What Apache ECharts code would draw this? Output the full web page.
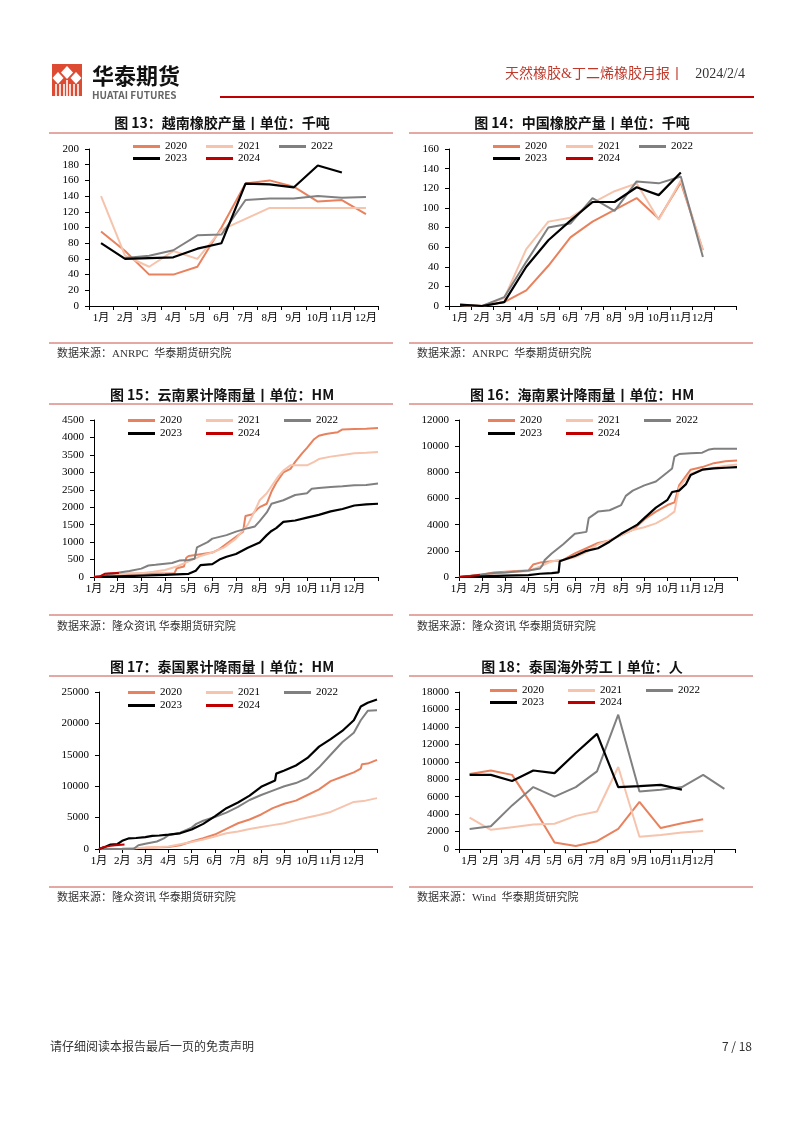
<!DOCTYPE html>
<html><head><meta charset="utf-8">
<script src="https://cdn.jsdelivr.net/npm/echarts@6/dist/echarts.min.js"></script>
<style>html,body{margin:0;padding:0;background:#fff}#c{width:802px;height:1133px}</style>
</head><body><div id="c"></div>
<script>
// ---------- labels ----------
const months = ['1月','2月','3月','4月','5月','6月','7月','8月','9月','10月','11月','12月'];
const months13 = months.concat(['']);
const years = ['2020','2021','2022','2023','2024'];

// ---------- 图13 越南橡胶产量 ----------
const vn2020 = [95,70,40,40,50,100,156,160,152,133,135,117];
const vn2021 = [140,64,50,70,60,97,111,125,125,125,125,125];
const vn2022 = [null,61,64,71,90,91,135,137,137,140,138,139];
const vn2023 = [80,60,61,62,73,80,156,155,151,179,170];
const vn2024 = [];

// ---------- 图14 中国橡胶产量 ----------
const cn2020 = [1,0,4,16,41,70,86,98,110,89,126,57];
const cn2021 = [1,0,8,58,86,90,105,117,125,88,128,57];
const cn2022 = [1,0,9,45,80,84,110,97,127,125,132,50];
const cn2023 = [1.5,0,4,40,67,87,106,106,121,113,136];
const cn2024 = [];

// ---------- 图15 云南累计降雨量 (x = 月份偏移) ----------
const yn2020 = [[0,0],[0.5,30],[1,70],[1.5,90],[2,100],[3,100],[3.4,110],[3.5,250],[3.8,300],[3.9,550],[4,600],[4.5,650],[5,700],[5.3,800],[5.6,950],[6,1150],[6.3,1300],[6.4,1750],[6.7,1800],[6.9,1950],[7,2000],[7.3,2100],[7.5,2450],[7.7,2700],[8,3000],[8.3,3100],[8.5,3300],[8.8,3550],[9,3700],[9.3,3950],[9.5,4050],[9.8,4100],[10,4120],[10.3,4150],[10.5,4230],[11,4240],[11.5,4250],[12,4270]];
const yn2021 = [[0,0],[0.5,40],[1,80],[1.5,100],[2,110],[2.5,150],[3,200],[3.5,300],[4,450],[4.5,600],[5,700],[5.5,850],[6,1100],[6.5,1500],[6.8,1900],[7,2200],[7.3,2400],[7.5,2600],[7.8,2900],[8,3050],[8.3,3200],[9,3200],[9.3,3300],[9.5,3380],[10,3450],[10.5,3500],[11,3550],[11.5,3560],[12,3580]];
const yn2022 = [[0,0],[0.5,50],[1,120],[1.5,170],[2,240],[2.3,330],[2.6,350],[3,380],[3.3,400],[3.6,470],[4,490],[4.25,520],[4.35,850],[4.5,900],[4.8,1000],[5,1100],[5.3,1150],[5.6,1200],[6,1300],[6.5,1400],[6.8,1450],[7,1600],[7.3,1850],[7.5,2100],[8,2200],[8.5,2350],[9,2400],[9.2,2530],[9.5,2550],[10,2580],[10.5,2600],[11,2630],[11.5,2640],[12,2680]];
const yn2023 = [[0,0],[1,20],[2,40],[3,60],[4,90],[4.3,180],[4.5,340],[5,370],[5.3,500],[5.6,580],[6,660],[6.5,840],[7,990],[7.3,1200],[7.5,1320],[7.7,1400],[8,1580],[8.5,1620],[9,1700],[9.5,1780],[10,1880],[10.5,1950],[11,2050],[11.5,2080],[12,2100]];
const yn2024 = [[0,0],[0.25,15],[0.45,90],[0.7,105],[1.05,115]];

// ---------- 图16 海南累计降雨量 ----------
const hn2020 = [[0,0],[0.5,100],[1,200],[1.5,350],[2,400],[2.5,450],[3,500],[3.2,950],[3.5,1100],[4,1200],[4.5,1300],[5,1800],[5.5,2200],[6,2600],[6.5,2800],[7,3200],[7.5,3600],[8,4400],[8.5,5000],[9,5500],[9.3,5700],[9.5,7000],[10,8200],[10.5,8400],[11,8700],[11.5,8850],[12,8900]];
const hn2021 = [[0,0],[0.5,80],[1,150],[1.5,250],[2,350],[2.5,400],[3,450],[3.5,800],[4,1200],[4.5,1300],[5,1500],[5.5,1900],[6,2500],[6.5,2800],[7,3200],[7.5,3600],[8,3800],[8.5,4100],[9,4600],[9.3,5000],[9.5,6800],[9.7,7300],[10,7900],[10.5,8200],[11,8350],[11.5,8500],[12,8600]];
const hn2022 = [[0,0],[0.5,80],[1,200],[1.5,300],[2,350],[2.5,420],[3,500],[3.5,650],[3.6,900],[3.7,1300],[4,1800],[4.5,2500],[5,3300],[5.5,3450],[5.6,4500],[6,5000],[6.5,5100],[7,5500],[7.2,6200],[7.5,6600],[8,7000],[8.5,7300],[9,8000],[9.2,8300],[9.3,9200],[9.5,9400],[10,9450],[10.5,9500],[10.8,9750],[11,9800],[12,9800]];
const hn2023 = [[0,0],[1,50],[2,100],[3,150],[3.5,250],[4,300],[4.3,350],[4.35,1200],[4.5,1300],[5,1600],[5.5,2000],[6,2200],[6.5,2700],[7,3300],[7.3,3600],[7.7,4000],[8,4500],[8.5,5300],[9,5900],[9.2,6500],[9.5,6600],[9.8,7100],[10,7800],[10.5,8200],[11,8300],[11.5,8350],[12,8400]];
const hn2024 = [[0,0],[0.5,80],[0.9,150]];

// ---------- 图17 泰国累计降雨量 ----------
const th2020r = [[0,0],[1,50],[2,200],[3,320],[3.5,600],[4,1200],[4.5,1700],[5,2300],[5.5,3200],[6,4100],[6.5,4700],[7,5500],[7.5,6500],[8,7200],[8.5,7700],[9,8600],[9.5,9500],[10,10800],[10.5,11500],[11,12200],[11.3,12800],[11.35,13500],[11.6,13600],[12,14200]];
const th2021r = [[0,0],[1,50],[2,200],[3,400],[4,1100],[4.5,1500],[5,2000],[5.5,2500],[6,2800],[6.5,3200],[7,3500],[7.5,3800],[8,4100],[8.5,4600],[9,5000],[9.5,5400],[10,5900],[10.5,6700],[11,7500],[11.5,7700],[12,8100]];
const th2022r = [[0,0],[1,0],[1.5,50],[1.7,600],[2,850],[2.5,1200],[2.8,1700],[3,2200],[3.5,2600],[4,3400],[4.2,4000],[4.5,4500],[5,5100],[5.5,5800],[6,6700],[6.5,7800],[7,8600],[7.5,9300],[8,10000],[8.5,10500],[9,11300],[9.5,13000],[10,15000],[10.5,17000],[11,18500],[11.3,20500],[11.6,22000],[12,22100]];
const th2023r = [[0,0],[0.3,400],[0.5,700],[0.8,800],[1,1300],[1.3,1700],[1.6,1750],[2,1900],[2.3,2100],[2.6,2150],[3,2300],[3.5,2500],[4,3100],[4.5,4000],[5,5200],[5.5,6500],[6,7400],[6.5,8500],[7,9900],[7.6,10900],[7.65,12000],[8,12500],[8.5,13300],[9,14500],[9.5,16300],[10,17500],[10.5,18800],[11,20500],[11.3,22700],[11.6,23300],[12,23800]];
const th2024r = [[0,0],[0.2,300],[0.5,500],[0.7,600],[1.1,700]];

// ---------- 图18 泰国海外劳工 ----------
const lab2020 = [8600,9000,8500,4800,750,350,900,2300,5400,2400,2950,3400];
const lab2021 = [3600,2200,2500,2800,2900,3800,4300,9400,1400,1600,1900,2050];
const lab2022 = [2300,2600,5000,7100,6000,7100,8900,15400,6600,6800,7100,8500,6900];
const lab2023 = [8500,8500,7800,9000,8700,11000,13200,7100,7200,7350,6800];
const lab2024 = [];

// ---------- styling ----------
const COLORS = {'2020':'#E8825E','2021':'#F6C3AC','2022':'#808080','2023':'#000000','2024':'#C00000'};
const SERIF = "'Liberation Serif','Noto Sans CJK SC'";
const SANS = "'Noto Sans CJK SC'";

const grids = [
  {left:89, top:149, width:289, height:157},
  {left:449, top:149, width:287, height:157},
  {left:94, top:420, width:284, height:157},
  {left:459, top:420, width:278, height:157},
  {left:99, top:692, width:278, height:157},
  {left:459, top:692, width:276, height:157}
];
const yRanges = [[200,20],[160,20],[4500,500],[12000,2000],[25000,5000],[18000,2000]];

const axisCommon = {
  axisLine:{show:true, lineStyle:{color:'#000', width:1}},
  axisTick:{show:true, length:4, lineStyle:{color:'#000'}},
  splitLine:{show:false}
};
const xAxes = [], yAxes = [];
[0,1,2,3,4,5].forEach(i => {
  let xa;
  if (i === 0) xa = {type:'category', data:months};
  else if (i === 1 || i === 5) xa = {type:'category', data:months13};
  else xa = {type:'value', min:0, max:12, interval:1};
  Object.assign(xa, JSON.parse(JSON.stringify(axisCommon)), {gridIndex:i});
  xa.axisLabel = {interval:0, margin:7, fontFamily:SERIF, fontSize:11, color:'#000'};
  if (xa.type === 'value') xa.axisLabel.formatter = v => (v < 12 ? months[Math.round(v)] : '');
  xAxes.push(xa);
  const ya = Object.assign({type:'value', gridIndex:i, min:0, max:yRanges[i][0], interval:yRanges[i][1]}, JSON.parse(JSON.stringify(axisCommon)));
  ya.axisLabel = {margin:10, fontFamily:SERIF, fontSize:11, color:'#000', formatter: v => String(v)};
  yAxes.push(ya);
});

const seriesData = [
  [vn2020,vn2021,vn2022,vn2023,vn2024],
  [cn2020,cn2021,cn2022,cn2023,cn2024],
  [yn2020,yn2021,yn2022,yn2023,yn2024],
  [hn2020,hn2021,hn2022,hn2023,hn2024],
  [th2020r,th2021r,th2022r,th2023r,th2024r],
  [lab2020,lab2021,lab2022,lab2023,lab2024]
];
const series = [];
seriesData.forEach((arr, i) => {
  arr.forEach((d, k) => {
    const y = years[k];
    series.push({
      type:'line', name:y, xAxisIndex:i, yAxisIndex:i, data:d,
      symbol:'none', animation:false, connectNulls:false,
      lineStyle:{color:COLORS[y], width: y==='2023' ? 2.2 : 2},
      itemStyle:{color:COLORS[y]}
    });
  });
});

// legends: [left, row1 top, row2 top, gap]
const legendPos = [[133,141,153,19],[493,141,153,19],[128,415,428,24],[488,415,428,24],[128,687,700,24],[490,685,697,24]];
const legends = [];
legendPos.forEach(p => {
  const base = {icon:'rect', itemWidth:27, itemHeight:3, itemGap:p[3], padding:0,
    textStyle:{fontFamily:SERIF, fontSize:11, color:'#000'}, selectedMode:false, orient:'horizontal'};
  legends.push(Object.assign({}, base, {left:p[0], top:p[1], data:['2020','2021','2022']}));
  legends.push(Object.assign({}, base, {left:p[0], top:p[2], data:['2023','2024']}));
});

// ---------- page graphics ----------
const titles = [
  ['图 13：越南橡胶产量丨单位：千吨', 222, 123],
  ['图 14：中国橡胶产量丨单位：千吨', 582, 123],
  ['图 15：云南累计降雨量丨单位：HM', 222, 395],
  ['图 16：海南累计降雨量丨单位：HM', 582, 395],
  ['图 17：泰国累计降雨量丨单位：HM', 222, 667],
  ['图 18：泰国海外劳工丨单位：人', 582, 667]
];
const sources = [
  ['数据来源：ANRPC  华泰期货研究院', 57, 354],
  ['数据来源：ANRPC  华泰期货研究院', 417, 354],
  ['数据来源：隆众资讯 华泰期货研究院', 57, 627],
  ['数据来源：隆众资讯 华泰期货研究院', 417, 627],
  ['数据来源：隆众资讯 华泰期货研究院', 57, 898],
  ['数据来源：Wind  华泰期货研究院', 417, 898]
];
const topLines = [133, 404, 676];
const botLines = [343, 615, 887];

const g = [];
// logo
g.push({type:'rect', shape:{x:52, y:64, width:30, height:32}, style:{fill:'#DC4B32'}});
g.push({type:'polygon', shape:{points:[[67,66],[73,72.5],[67,79],[61,72.5]]}, style:{fill:'#fff'}});
g.push({type:'polygon', shape:{points:[[58,72],[63.5,78],[58,84],[52.5,78]]}, style:{fill:'#fff'}});
g.push({type:'polygon', shape:{points:[[76,72],[81.5,78],[76,84],[70.5,78]]}, style:{fill:'#fff'}});
[56,60,64,70,74,78].forEach(x => g.push({type:'line', shape:{x1:x, y1:84, x2:x, y2:96}, style:{stroke:'#fff', lineWidth:1.6}}));
g.push({type:'line', shape:{x1:67, y1:80, x2:67, y2:96}, style:{stroke:'#fff', lineWidth:1.6}});
g.push({type:'text', style:{text:'华泰期货', x:92, y:76, font:'bold 22px ' + SANS, fill:'#111', verticalAlign:'middle'}});
g.push({type:'text', style:{text:'HUATAI FUTURES', x:92, y:95.5, font:'bold 10px ' + SANS, fill:'#666', verticalAlign:'middle'}});
g.push({type:'line', shape:{x1:220, y1:97, x2:754, y2:97}, style:{stroke:'#C00000', lineWidth:2}});
g.push({type:'text', style:{text:'天然橡胶&丁二烯橡胶月报丨', x:684, y:74, font:'14px ' + SERIF, fill:'#C0392B', align:'right', verticalAlign:'middle'}});
g.push({type:'text', style:{text:'2024/2/4', x:745, y:74, font:'14px ' + SERIF, fill:'#333', align:'right', verticalAlign:'middle'}});
// titles
titles.forEach(t => g.push({type:'text', style:{text:t[0], x:t[1], y:t[2], font:'bold 14px ' + SANS, fill:'#111', align:'center', verticalAlign:'middle'}}));
topLines.concat(botLines).forEach(y => {
  g.push({type:'line', shape:{x1:49, y1:y, x2:393, y2:y}, style:{stroke:'#C8504B', lineWidth:1}});
  g.push({type:'line', shape:{x1:409, y1:y, x2:753, y2:y}, style:{stroke:'#C8504B', lineWidth:1}});
});
sources.forEach(s => g.push({type:'text', style:{text:s[0], x:s[1], y:s[2], font:'11px ' + SERIF, fill:'#333', verticalAlign:'middle'}}));
// footer
g.push({type:'text', style:{text:'请仔细阅读本报告最后一页的免责声明', x:50, y:1046, font:'12px ' + SANS, fill:'#333', verticalAlign:'middle'}});
g.push({type:'text', style:{text:'7 / 18', x:752, y:1046, font:'12px ' + SANS, fill:'#333', align:'right', verticalAlign:'middle'}});

const chart = echarts.init(document.getElementById('c'), null, {renderer:'canvas'});
chart.setOption({
  backgroundColor:'#fff',
  animation:false,
  grid: grids.map(gr => Object.assign({containLabel:false}, gr)),
  xAxis: xAxes,
  yAxis: yAxes,
  legend: legends,
  series: series,
  graphic: {elements: g}
});
</script></body></html>
